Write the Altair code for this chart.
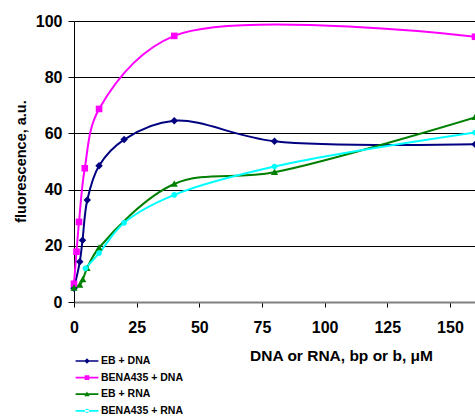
import altair as alt
import pandas as pd

series_names = ["EB + DNA", "BENA435 + DNA", "EB + RNA", "BENA435 + RNA"]
series_colors = ["#000080", "#FF00FF", "#008000", "#00FFFF"]

eb_dna_x = [0, 2.3, 3.4, 5.3, 10, 20, 40, 80, 160]
eb_dna_y = [4.9, 14.3, 22.0, 36.3, 48.5, 57.8, 64.5, 57.2, 56.1]

bena_dna_x = [0, 1, 2, 4.3, 10, 40, 160]
bena_dna_y = [6.5, 17.9, 28.5, 47.6, 68.7, 94.7, 94.4]

eb_rna_x = [0, 2.3, 3.5, 5.2, 10, 40, 80, 160]
eb_rna_y = [5.0, 6.0, 8.0, 12.0, 19.3, 42.0, 46.2, 65.7]

bena_rna_x = [4.6, 10, 20, 40, 80, 160]
bena_rna_y = [12.0, 17.4, 28.2, 38.1, 48.2, 60.3]

x_ticks = [0, 25, 50, 75, 100, 125, 150]
y_ticks = [0, 20, 40, 60, 80, 100]

# marker glyphs (plot) and legend glyphs (line + marker)
marker_paths = [
    "M0,-0.62L0.62,0L0,0.62L-0.62,0Z",
    "M-0.55,-0.55H0.55V0.55H-0.55Z",
    "M0,-0.6L0.6,0.45H-0.6Z",
    "M-0.48,0A0.48,0.48 0 1,0 0.48,0A0.48,0.48 0 1,0 -0.48,0Z",
]
legend_line = "M-1.9,-0.14H1.9V0.14H-1.9Z"
legend_paths = [
    legend_line + "M0,-0.45L0.45,0L0,0.45L-0.45,0Z",
    legend_line + "M-0.38,-0.38H0.38V0.38H-0.38Z",
    legend_line + "M0,-0.45L0.45,0.35H-0.45Z",
    legend_line + "M-0.36,0A0.36,0.36 0 1,0 0.36,0A0.36,0.36 0 1,0 -0.36,0Z",
]

rows = []
for name, xs, ys in [
    (series_names[0], eb_dna_x, eb_dna_y),
    (series_names[1], bena_dna_x, bena_dna_y),
    (series_names[2], eb_rna_x, eb_rna_y),
    (series_names[3], bena_rna_x, bena_rna_y),
]:
    for i, (xv, yv) in enumerate(zip(xs, ys)):
        rows.append({"series": name, "x": xv, "y": yv, "i": i})
df = pd.DataFrame(rows)

FONT = "Liberation Sans"

x_enc = alt.X(
    "x:Q",
    scale=alt.Scale(domain=[0, 160], nice=False, zero=False),
    axis=alt.Axis(
        values=x_ticks,
        title="DNA or RNA, bp or b, \u03bcM",
        titleFont=FONT,
        titleFontSize=15.5,
        titleFontWeight="bold",
        titleColor="black",
        titleAnchor="start",
        titleAlign="center",
        titleBaseline="middle",
        titleX=267,
        titleY=53,
        labelFont=FONT,
        labelFontSize=16,
        labelFontWeight="bold",
        labelColor="black",
        labelPadding=12,
        tickSize=5,
        tickColor="black",
        domainColor="#808080",
        domainWidth=2,
        grid=False,
        labelFlush=False,
        labelOverlap=False,
    ),
)
y_enc = alt.Y(
    "y:Q",
    scale=alt.Scale(domain=[0, 100], nice=False),
    axis=alt.Axis(
        values=y_ticks,
        title="fluorescence, a.u.",
        titleFont=FONT,
        titleFontSize=14.5,
        titleFontWeight="bold",
        titleColor="black",
        titleAnchor="start",
        titleAlign="center",
        titleBaseline="middle",
        titleX=-53,
        titleY=140,
        labelFont=FONT,
        labelFontSize=16,
        labelFontWeight="bold",
        labelColor="black",
        labelPadding=6,
        tickSize=6,
        tickColor="black",
        domainColor="black",
        grid=True,
        gridColor="black",
        gridWidth=1,
        labelOverlap=False,
    ),
)

color_scale = alt.Scale(domain=series_names, range=series_colors)
color_nolegend = alt.Color("series:N", scale=color_scale, legend=None)

lines = alt.Chart(df).mark_line(
    strokeWidth=2, interpolate="catmull-rom", clip=False
).encode(
    x=x_enc,
    y=y_enc,
    color=color_nolegend,
    detail="series:N",
    order="i:Q",
)

point_layers = []
for name, path in zip(series_names, marker_paths):
    point_layers.append(
        alt.Chart(df)
        .transform_filter(alt.datum.series == name)
        .mark_point(filled=True, opacity=1, size=144, clip=False)
        .encode(
            x=alt.X("x:Q"),
            y=alt.Y("y:Q"),
            color=color_nolegend,
            shape=alt.value(path),
        )
    )

legend_cfg = dict(
    title=None,
    orient="none",
    legendX=7,
    legendY=334,
    padding=0,
    rowPadding=4.6,
    symbolSize=144,
    symbolStrokeWidth=0,
    labelOffset=8,
    labelFont=FONT,
    labelFontSize=10.5,
    labelFontWeight="bold",
    labelColor="black",
    labelLimit=300,
)

legend_layer = alt.Chart(df).transform_filter("false").mark_point(
    filled=True, opacity=1, size=144
).encode(
    x=alt.X("x:Q"),
    y=alt.Y("y:Q"),
    color=alt.Color("series:N", scale=color_scale, legend=alt.Legend(**legend_cfg)),
    shape=alt.Shape(
        "series:N",
        scale=alt.Scale(domain=series_names, range=legend_paths),
        legend=alt.Legend(**legend_cfg),
    ),
)

chart = (
    alt.layer(legend_layer, lines, *point_layers)
    .properties(
        width=401,
        height=281,
        padding={"left": 74, "top": 21, "right": 0, "bottom": 115},
        autosize=alt.AutoSizeParams(type="none"),
        background="white",
    )
    .configure_view(stroke=None)
)

chart.save("out.html", embed_options={"renderer": "svg", "actions": False})
